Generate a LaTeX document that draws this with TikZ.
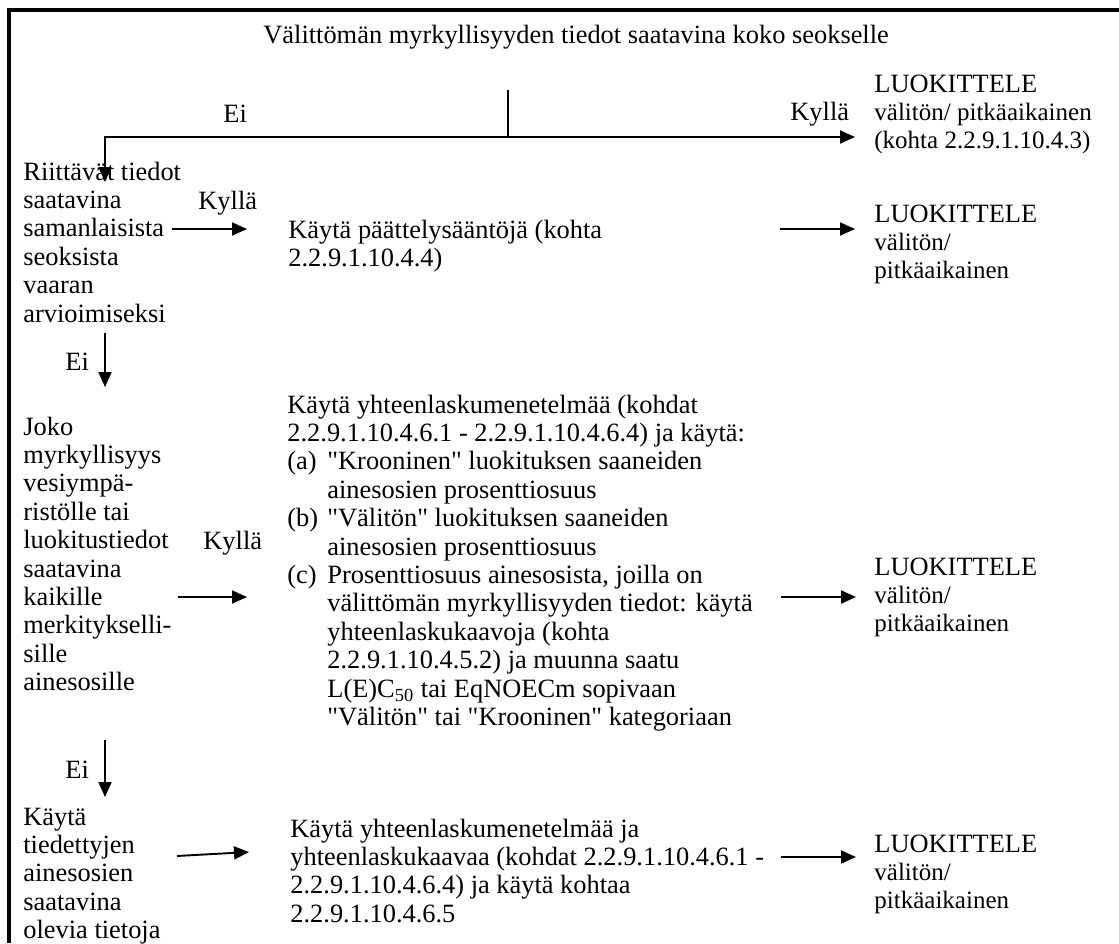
\documentclass[tikz,border=0pt]{standalone}
\usepackage{fontspec}
\setmainfont{Liberation Serif}[Ligatures=TeXOff]
\usetikzlibrary{arrows.meta}
\newcommand{\bodysize}{\fontsize{13.2pt}{14.2pt}\selectfont}
\newcommand{\smallsz}{\fontsize{12.5pt}{14.2pt}\selectfont}
\newcommand{\txtlines}[1]{\begin{tabular}[t]{@{}l@{}}#1\end{tabular}}
\tikzset{
  txt/.style={inner sep=0pt, anchor=base west, font=\bodysize},
  arr/.style={line width=0.95pt, -{Triangle[length=7.5pt,width=6.5pt]}},
  ln/.style={line width=0.95pt},
  frameline/.style={line width=1.75pt},
}
\begin{document}
\begin{tikzpicture}[x=0.5pt,y=-0.5pt]
\useasboundingbox (0,0) rectangle (1119,943);
\draw[frameline] (9,943) -- (9,10) -- (1119,10);

% title
\node[txt] (title) at (263,43) {Välittömän myrkyllisyyden tiedot saatavina koko seokselle};

% row 1
\node[txt] (ei1) at (223,122) {Ei};
\node[txt] (kyl1) at (790,120) {Kyllä};
\node[txt] (res1) at (874,92) {\txtlines{LUOKITTELE\\ \smallsz välitön/ pitkäaikainen\\ \smallsz (kohta 2.2.9.1.10.4.3)}};

% row 2
\node[txt] (q1) at (23,180) {\txtlines{Riittävät tiedot\\ saatavina\\ samanlaisista\\ seoksista\\ vaaran\\ arvioimiseksi}};
\node[txt] (kyl2) at (198,209) {Kyllä};
\node[txt] (m1) at (288,238) {\txtlines{Käytä päättelysääntöjä (kohta\\ 2.2.9.1.10.4.4)}};
\node[txt] (res2) at (874,222) {\txtlines{LUOKITTELE\\ \smallsz välitön/\\ \smallsz pitkäaikainen}};

% row 3
\node[txt] (ei2) at (65,370) {Ei};
\node[txt] (q2) at (23,435) {\txtlines{Joko\\ myrkyllisyys\\ vesiympä-\\ ristölle tai\\ luokitustiedot\\ saatavina\\ kaikille\\ merkitykselli-\\ sille\\ ainesosille}};
\node[txt] (kyl3) at (203,549) {Kyllä};
\node[txt] (m2) at (287,413) {\begin{tabular}[t]{@{}p{20pt}@{}l@{}}
\multicolumn{2}{@{}l@{}}{Käytä yhteenlaskumenetelmää (kohdat}\\
\multicolumn{2}{@{}l@{}}{2.2.9.1.10.4.6.1 - 2.2.9.1.10.4.6.4) ja käytä:}\\
(a) & "Krooninen" luokituksen saaneiden\\
 & ainesosien prosenttiosuus\\
(b) & "Välitön" luokituksen saaneiden\\
 & ainesosien prosenttiosuus\\
(c) & Prosenttiosuus ainesosista, joilla on\\
 & välittömän myrkyllisyyden tiedot: käytä\\
 & yhteenlaskukaavoja (kohta\\
 & 2.2.9.1.10.4.5.2) ja muunna saatu\\
 & L(E)C\textsubscript{50} tai EqNOECm sopivaan\\
 & "Välitön" tai "Krooninen" kategoriaan
\end{tabular}};
\node[txt] (res3) at (874,575) {\txtlines{LUOKITTELE\\ \smallsz välitön/\\ \smallsz pitkäaikainen}};

% row 4
\node[txt] (ei3) at (65,778) {Ei};
\node[txt] (q3) at (23,825) {\txtlines{Käytä\\ tiedettyjen\\ ainesosien\\ saatavina\\ olevia tietoja}};
\node[txt] (m3) at (290,837) {\txtlines{Käytä yhteenlaskumenetelmää ja\\ yhteenlaskukaavaa (kohdat 2.2.9.1.10.4.6.1 -\\ 2.2.9.1.10.4.6.4) ja käytä kohtaa\\ 2.2.9.1.10.4.6.5}};
\node[txt] (res4) at (874,852) {\txtlines{LUOKITTELE\\ \smallsz välitön/\\ \smallsz pitkäaikainen}};

% connector coordinates
\coordinate (s0) at (508,90);
\coordinate (s1) at (508,137);
\coordinate (q1in) at (105,182);
\coordinate (res1in) at (855,137);
\coordinate (q1out) at (172,229);
\coordinate (m1in) at (247,229);
\coordinate (m1out) at (780,229);
\coordinate (res2in) at (855,229);
\coordinate (q1down) at (105,333);
\coordinate (q2in) at (105,387);
\coordinate (q2out) at (178,597);
\coordinate (m2in) at (247,597);
\coordinate (m2out) at (781,597);
\coordinate (res3in) at (856,597);
\coordinate (q2down) at (105,740);
\coordinate (q3in) at (105,797);
\coordinate (q3out) at (177,856);
\coordinate (m3in) at (249,852);
\coordinate (m3out) at (781,857);
\coordinate (res4in) at (856,857);

\draw[ln] (s0) -- (s1);
\draw[arr] (s1) -| (q1in);
\draw[arr] (s1) -- (res1in);
\draw[arr] (q1out) -- (m1in);
\draw[arr] (m1out) -- (res2in);
\draw[arr] (q1down) -- (q2in);
\draw[arr] (q2out) -- (m2in);
\draw[arr] (m2out) -- (res3in);
\draw[arr] (q2down) -- (q3in);
\draw[arr] (q3out) -- (m3in);
\draw[arr] (m3out) -- (res4in);
\end{tikzpicture}
\end{document}
